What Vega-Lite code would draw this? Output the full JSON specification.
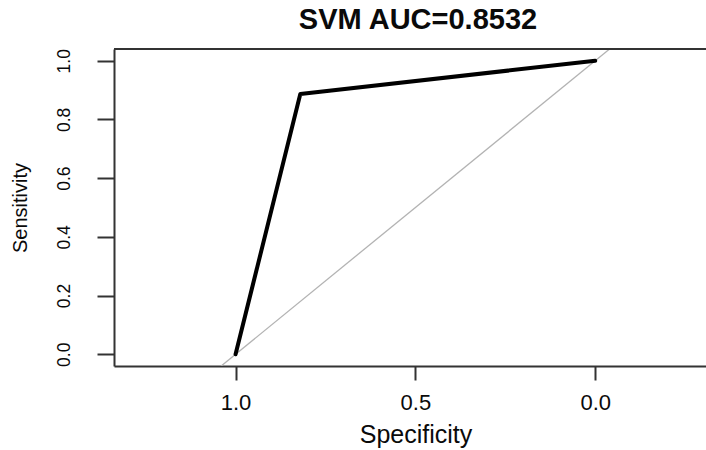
{
  "$schema": "https://vega.github.io/schema/vega-lite/v6.json",
  "width": 592,
  "height": 317,
  "autosize": {"type": "none"},
  "padding": {"left": 114, "top": 49, "right": 0, "bottom": 84},
  "background": "white",
  "config": {
    "view": {"stroke": null},
    "font": "Liberation Sans",
    "axis": {"grid": false, "domainColor": "#333333", "domainWidth": 2, "tickColor": "#333333", "tickWidth": 2, "labelColor": "#0a0a0a", "titleColor": "#0a0a0a", "labelFont": "Liberation Sans", "titleFont": "Liberation Sans", "titleFontWeight": "normal"}
  },
  "title": {
    "text": "SVM AUC=0.8532",
    "font": "Liberation Sans",
    "fontSize": 29,
    "fontWeight": "bold",
    "color": "#0a0a0a",
    "anchor": "middle",
    "frame": "group",
    "baseline": "alphabetic",
    "offset": 17,
    "dx": 8,
    "dy": 27
  },
  "datasets": {
    "roc": [
      {"specificity": 1.0, "sensitivity": 0.0, "step": 0},
      {"specificity": 0.82, "sensitivity": 0.8864, "step": 1},
      {"specificity": 0.0, "sensitivity": 1.0, "step": 2}
    ],
    "chance": [
      {"specificity": 1.04, "sensitivity": -0.04},
      {"specificity": -0.04, "sensitivity": 1.04}
    ]
  },
  "layer": [
    {
      "data": {"name": "chance"},
      "mark": {"type": "line", "color": "#b3b3b3", "strokeWidth": 1.3, "clip": true},
      "encoding": {
        "x": {
          "field": "specificity", "type": "quantitative",
          "scale": {"domain": [-0.308, 1.338], "reverse": true, "nice": false, "zero": false},
          "axis": {"values": [0, 0.5, 1], "format": ".1f", "title": "Specificity", "labelFontSize": 22, "titleFontSize": 25, "tickSize": 14, "labelPadding": 12, "titlePadding": 9, "labelFlush": false, "titleX": 301.5}
        },
        "y": {
          "field": "sensitivity", "type": "quantitative",
          "scale": {"domain": [-0.04, 1.04], "nice": false, "zero": false},
          "axis": {"values": [0, 0.2, 0.4, 0.6, 0.8, 1.0], "format": ".1f", "title": "Sensitivity", "labelAngle": -90, "labelAlign": "center", "labelBaseline": "bottom", "labelFontSize": 17.5, "titleFontSize": 20, "tickSize": 17, "labelPadding": 24, "titlePadding": 25, "labelFlush": false}
        },
        "order": {"field": "specificity", "type": "quantitative"}
      }
    },
    {
      "data": {"name": "roc"},
      "mark": {"type": "line", "color": "black", "strokeWidth": 4, "strokeJoin": "round", "strokeCap": "round"},
      "encoding": {
        "x": {"field": "specificity", "type": "quantitative"},
        "y": {"field": "sensitivity", "type": "quantitative"},
        "order": {"field": "step", "type": "quantitative"}
      }
    },
    {
      "data": {"values": [{}]},
      "mark": {"type": "rule", "color": "#333333", "strokeWidth": 2},
      "encoding": {"y": {"datum": 1.04}}
    }
  ]
}
